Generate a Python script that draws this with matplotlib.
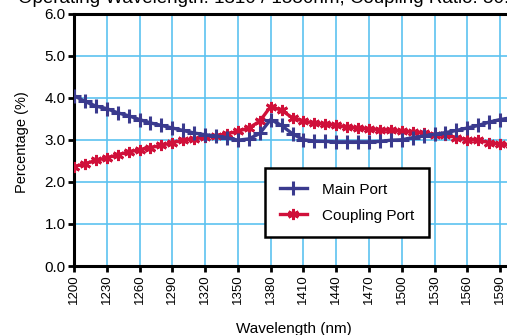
import matplotlib
matplotlib.use("Agg")
import matplotlib.pyplot as plt
import numpy as np

plt.rcParams['font.family'] = ['Liberation Sans', 'DejaVu Sans']

wavelength = list(range(1200, 1601, 10))
main_port = [4.05, 3.91, 3.80, 3.74, 3.64, 3.57, 3.48, 3.40, 3.34, 3.28,
             3.22, 3.16, 3.12, 3.09, 3.05, 2.99, 3.02, 3.15, 3.48, 3.34,
             3.14, 3.00, 2.97, 2.96, 2.95, 2.95, 2.95, 2.95, 2.96, 2.99,
             3.00, 3.05, 3.09, 3.13, 3.17, 3.22, 3.28, 3.34, 3.42, 3.48, 3.52]
coupling_port = [2.36, 2.43, 2.51, 2.57, 2.64, 2.71, 2.76, 2.81, 2.87, 2.93,
                 2.99, 3.02, 3.06, 3.10, 3.14, 3.20, 3.28, 3.44, 3.79, 3.70,
                 3.52, 3.44, 3.40, 3.37, 3.35, 3.30, 3.28, 3.26, 3.24, 3.22,
                 3.21, 3.18, 3.17, 3.12, 3.11, 3.05, 3.00, 2.99, 2.93, 2.90, 2.87]
xticks = list(range(1200, 1591, 30))
yticks = [0.0, 1.0, 2.0, 3.0, 4.0, 5.0, 6.0]
title = "Operating Wavelength: 1310 / 1550nm, Coupling Ratio: 50:50"

W, H = 507, 335
fig = plt.figure(figsize=(W / 100, H / 100), dpi=100)
ax = fig.add_axes([74 / W, (H - 266) / H, 437 / W, (266 - 13.5) / H])

main_c = '#3a3a8e'
coup_c = '#d0103a'
ax.plot(wavelength, main_port, color=main_c, lw=2.4, marker='+', ms=10,
        mew=2.2, label='Main Port', zorder=4)
ax.plot(wavelength, coupling_port, color=coup_c, lw=2.4, marker=(6, 2, 0), ms=8,
        mew=2.0, label='Coupling Port', zorder=3)

ax.set_xlim(1200, 1600)
ax.set_ylim(0, 6)
ax.set_xticks(xticks)
ax.set_yticks(yticks)
ax.set_xticklabels([str(v) for v in xticks], rotation=90, fontsize=9.5)
ax.set_yticklabels([f"{v:.1f}" for v in yticks], fontsize=11)
ax.grid(True, color='#5cc2f0', lw=1.2)
ax.set_axisbelow(True)
for s in ['left', 'bottom', 'top']:
    ax.spines[s].set_linewidth(2.2)
    ax.spines[s].set_color('black')
ax.spines['right'].set_visible(False)
ax.tick_params(axis='both', direction='out', width=2, length=4, color='black', pad=2)

leg = ax.legend(loc='upper left', bbox_to_anchor=((265 - 74) / 437, (266 - 168) / 252.5),
                fontsize=11, frameon=True, fancybox=False, framealpha=1,
                edgecolor='black', handlelength=1.8, borderpad=0.95, labelspacing=0.8,
                handletextpad=1.0, borderaxespad=0)
leg.get_frame().set_linewidth(1.8)

fig.text(18 / W, 1 - 3 / H, title, ha='left', va='baseline', fontsize=13.5)
fig.text(22 / W, (H - 142) / H, 'Percentage (%)', rotation=90, ha='center',
         va='center', fontsize=10.5)
fig.text(294 / W, (H - 333) / H, 'Wavelength (nm)', ha='center', va='baseline',
         fontsize=11)

fig.savefig('out.png', dpi=100)
